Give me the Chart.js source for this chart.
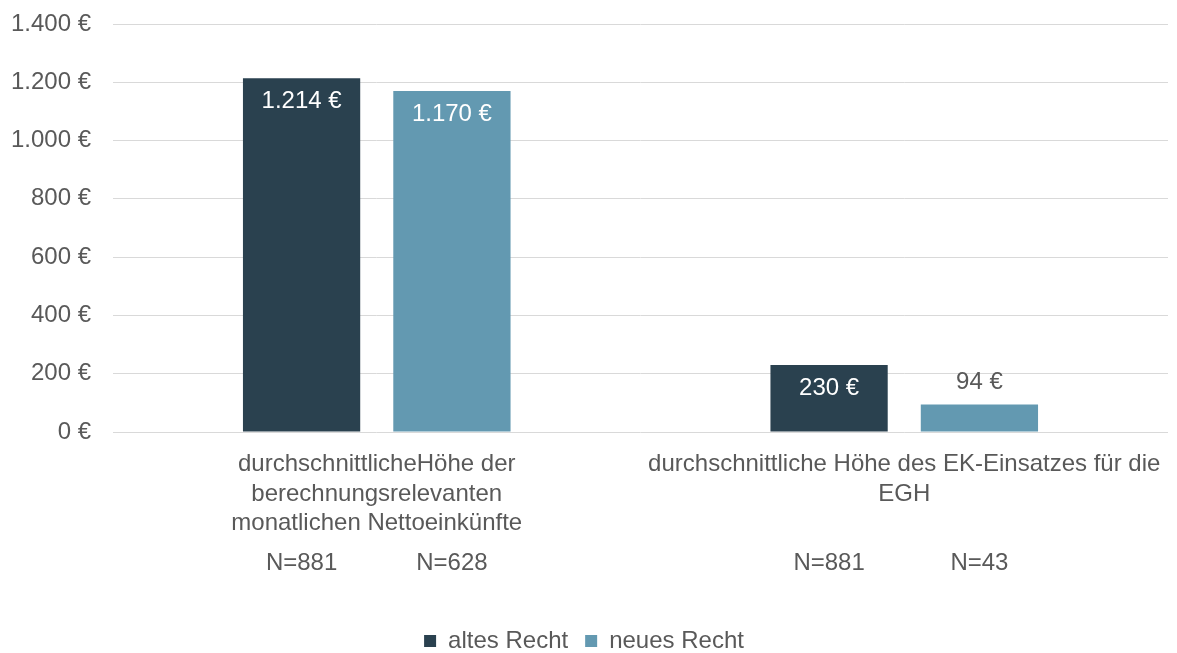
<!DOCTYPE html>
<html lang="de">
<head>
<meta charset="utf-8">
<title>Nettoeinkünfte und EK-Einsatz</title>
<script src="https://cdn.jsdelivr.net/npm/chart.js@4/dist/chart.umd.min.js"></script>
<style>
    html, body { margin: 0; padding: 0; background: #fff; }
    #wrap { width: 1177px; height: 653px; position: relative; }
</style>
</head>
<body>
<div id="wrap"><canvas id="chart"></canvas></div>
<script>
// chart data
const categories = [
    ['durchschnittlicheHöhe der', 'berechnungsrelevanten', 'monatlichen Nettoeinkünfte'],
    ['durchschnittliche Höhe des EK-Einsatzes für die', 'EGH']
];
const seriesNames = ['altes Recht', 'neues Recht'];
const altesRecht = [1214, 230];
const neuesRecht = [1170, 94];
const nAltes = ['N=881', 'N=881'];
const nNeues = ['N=628', 'N=43'];
const yTicks = [0, 200, 400, 600, 800, 1000, 1200, 1400];

const TEXT = '#595959';
const DARK = '#2a414f';
const LIGHT = '#6399b1';
const FONT = "'Liberation Sans', Arial, sans-serif";

function euro(v) {
    return String(v).replace(/\B(?=(\d{3})+(?!\d))/g, '.') + ' €';
}

Chart.defaults.font.family = FONT;
Chart.defaults.font.size = 24;
Chart.defaults.color = TEXT;

// value labels on the bars + N row below the categories
const barLabels = {
    id: 'barLabels',
    afterDatasetsDraw(chart) {
        const ctx = chart.ctx;
        const nRows = [nAltes, nNeues];
        ctx.save();
        ctx.font = '24px ' + FONT;
        ctx.textAlign = 'center';
        ctx.textBaseline = 'middle';
        chart.data.datasets.forEach((ds, di) => {
            const meta = chart.getDatasetMeta(di);
            meta.data.forEach((bar, i) => {
                const h = bar.base - bar.y;
                if (h > 45) {
                    ctx.fillStyle = '#ffffff';
                    ctx.fillText(euro(ds.data[i]), bar.x, bar.y + 23);
                } else {
                    ctx.fillStyle = TEXT;
                    ctx.fillText(euro(ds.data[i]), bar.x, bar.y - 22);
                }
                ctx.fillStyle = TEXT;
                ctx.fillText(nRows[di][i], bar.x, chart.chartArea.bottom + 131);
            });
        });
        ctx.restore();
    }
};

new Chart(document.getElementById('chart'), {
    type: 'bar',
    data: {
        labels: categories,
        datasets: [
            { label: seriesNames[0], data: altesRecht, backgroundColor: DARK },
            { label: seriesNames[1], data: neuesRecht, backgroundColor: LIGHT }
        ]
    },
    options: {
        responsive: true,
        maintainAspectRatio: false,
        animation: false,
        categoryPercentage: 0.57,
        barPercentage: 0.78,
        layout: { padding: { top: 24, right: 9, left: 0, bottom: -10 } },
        scales: {
            x: {
                grid: { display: false, drawTicks: false },
                border: { display: false },
                ticks: {
                    color: TEXT,
                    font: { size: 24, lineHeight: 1.22 },
                    padding: 18,
                    maxRotation: 0,
                    autoSkip: false
                },
                afterFit(scale) {
                    scale.height = 180;
                    scale.paddingLeft = 0;
                    scale.paddingRight = 0;
                }
            },
            y: {
                min: 0,
                max: 1400,
                afterBuildTicks(scale) { scale.ticks = yTicks.map(v => ({ value: v })); },
                grid: { color: '#d9d9d9', drawTicks: false },
                border: { display: false },
                ticks: {
                    color: TEXT,
                    font: { size: 24 },
                    padding: 22,
                    callback: v => euro(v)
                },
                afterFit(scale) {
                    scale.width = 113;
                    scale.paddingTop = 0;
                    scale.paddingBottom = 0;
                }
            }
        },
        plugins: {
            legend: {
                position: 'bottom',
                labels: {
                    boxWidth: 12,
                    boxHeight: 12,
                    padding: 17,
                    color: TEXT,
                    font: { size: 24 }
                }
            },
            tooltip: { enabled: false }
        }
    },
    plugins: [barLabels]
});
</script>
</body>
</html>
